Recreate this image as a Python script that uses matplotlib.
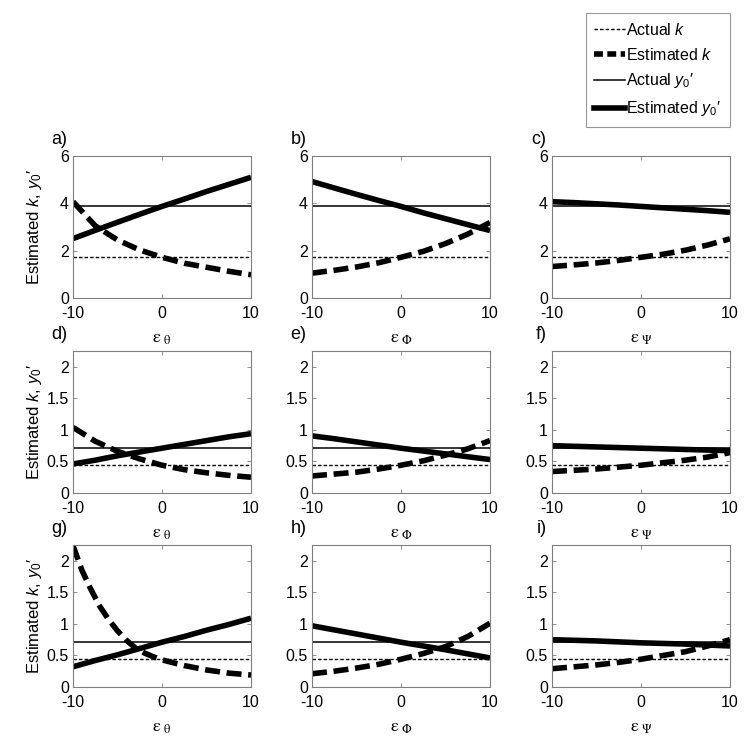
import matplotlib
matplotlib.use("Agg")
import matplotlib.pyplot as plt
from matplotlib.lines import Line2D
from matplotlib.ticker import FixedLocator, FuncFormatter

plt.rcParams['font.family'] = ['Liberation Sans', 'DejaVu Sans']
plt.rcParams['mathtext.fontset'] = 'custom'
plt.rcParams['mathtext.rm'] = 'Liberation Sans'
plt.rcParams['mathtext.it'] = 'Liberation Sans:italic'

# ---------------- data ----------------
eps = [-10, -7.5, -5, -2.5, 0, 2.5, 5, 7.5, 10]
eps_g_k = [-10, -9, -8, -7, -6, -5, -4, -3, -2, -1, 0, 2.5, 5, 7.5, 10]

actual_k_row1 = 1.72
actual_y0_row1 = 3.87
actual_k_rows23 = 0.44
actual_y0_rows23 = 0.71

est_k_a = [4.07, 3.05, 2.45, 2.03, 1.72, 1.47, 1.30, 1.13, 0.98]
est_y0_a = [2.51, 2.86, 3.20, 3.54, 3.87, 4.18, 4.50, 4.80, 5.10]
est_k_b = [1.05, 1.17, 1.31, 1.49, 1.72, 1.97, 2.30, 2.70, 3.19]
est_y0_b = [4.92, 4.65, 4.38, 4.12, 3.87, 3.60, 3.35, 3.10, 2.85]
est_k_c = [1.33, 1.40, 1.48, 1.59, 1.72, 1.85, 2.02, 2.24, 2.50]
est_y0_c = [4.07, 4.03, 3.98, 3.93, 3.87, 3.81, 3.75, 3.69, 3.62]

est_k_d = [1.04, 0.82, 0.66, 0.54, 0.44, 0.37, 0.32, 0.28, 0.25]
est_y0_d = [0.46, 0.52, 0.59, 0.65, 0.71, 0.77, 0.83, 0.89, 0.94]
est_k_e = [0.27, 0.30, 0.33, 0.38, 0.44, 0.51, 0.60, 0.70, 0.83]
est_y0_e = [0.905, 0.86, 0.81, 0.76, 0.71, 0.665, 0.62, 0.575, 0.53]
est_k_f = [0.34, 0.36, 0.38, 0.41, 0.44, 0.48, 0.52, 0.57, 0.64]
est_y0_f = [0.75, 0.74, 0.73, 0.72, 0.71, 0.70, 0.69, 0.68, 0.67]

est_k_g = [2.24, 1.85, 1.55, 1.28, 1.07, 0.89, 0.74, 0.62, 0.54, 0.48, 0.43,
           0.34, 0.27, 0.22, 0.19]
est_y0_g = [0.32, 0.42, 0.51, 0.61, 0.71, 0.80, 0.90, 0.99, 1.09]
est_k_h = [0.21, 0.25, 0.30, 0.36, 0.44, 0.53, 0.64, 0.80, 1.01]
est_y0_h = [0.97, 0.905, 0.84, 0.775, 0.71, 0.65, 0.59, 0.525, 0.46]
est_k_i = [0.29, 0.32, 0.35, 0.39, 0.44, 0.50, 0.56, 0.65, 0.75]
est_y0_i = [0.75, 0.74, 0.73, 0.715, 0.70, 0.69, 0.68, 0.665, 0.65]

panel_labels = ['a)', 'b)', 'c)', 'd)', 'e)', 'f)', 'g)', 'h)', 'i)']
xlabel_subs = [r'\theta', r'\Phi', r'\Psi']
yticks_row1 = [0, 2, 4, 6]
yticks_rows23 = [0, 0.5, 1, 1.5, 2]
xticks = [-10, 0, 10]

panels = [
    (eps, est_k_a, est_y0_a, actual_k_row1, actual_y0_row1),
    (eps, est_k_b, est_y0_b, actual_k_row1, actual_y0_row1),
    (eps, est_k_c, est_y0_c, actual_k_row1, actual_y0_row1),
    (eps, est_k_d, est_y0_d, actual_k_rows23, actual_y0_rows23),
    (eps, est_k_e, est_y0_e, actual_k_rows23, actual_y0_rows23),
    (eps, est_k_f, est_y0_f, actual_k_rows23, actual_y0_rows23),
    (eps_g_k, est_k_g, est_y0_g, actual_k_rows23, actual_y0_rows23),
    (eps, est_k_h, est_y0_h, actual_k_rows23, actual_y0_rows23),
    (eps, est_k_i, est_y0_i, actual_k_rows23, actual_y0_rows23),
]

# ---------------- figure ----------------
W, H = 750, 746
fig = plt.figure(figsize=(W / 100, H / 100), dpi=100)

col_left = [73, 312, 552]
ax_w = 178
row_top = [156, 351, 545]
ax_h = 142

spine_col = '#7f7f7f'
est_lw = 4.0
k_dash = (2.7, 1.2)
actual_k_style = dict(color='black', lw=1.0, dashes=(2.5, 1.5))
actual_y0_style = dict(color='black', lw=1.1)

fmt = FuncFormatter(lambda v, p: '%g' % v)

for idx, (x_k, ek, ey, ak, ay) in enumerate(panels):
    r, c = divmod(idx, 3)
    left = col_left[c] / W
    bottom = 1 - (row_top[r] + ax_h) / H
    ax = fig.add_axes([left, bottom, ax_w / W, ax_h / H])
    ax.plot([-10, 10], [ak, ak], **actual_k_style)
    ax.plot([-10, 10], [ay, ay], **actual_y0_style)
    ax.plot(x_k, ek, color='black', lw=est_lw, dashes=k_dash,
            solid_capstyle='butt', dash_capstyle='butt')
    ax.plot(eps, ey, color='black', lw=est_lw, solid_capstyle='butt')
    ax.set_xlim(-10, 10)
    if r == 0:
        ax.set_ylim(0, 6)
        ax.yaxis.set_major_locator(FixedLocator(yticks_row1))
    else:
        ax.set_ylim(0, 2.25)
        ax.yaxis.set_major_locator(FixedLocator(yticks_rows23))
    ax.xaxis.set_major_locator(FixedLocator(xticks))
    ax.yaxis.set_major_formatter(fmt)
    ax.xaxis.set_major_formatter(fmt)
    ax.tick_params(direction='in', length=3, width=0.6, colors=spine_col,
                   labelcolor='black', labelsize=11.5, top=True, right=True,
                   pad=3)
    ax.tick_params(axis='x', pad=6)
    for s in ax.spines.values():
        s.set_color(spine_col)
        s.set_linewidth(0.8)
    ax.set_xlabel(r'$\mathrm{\varepsilon}_{\ \mathrm{%s}}$' % xlabel_subs[c],
                  fontsize=13, math_fontfamily='stix', labelpad=6)
    if c == 0:
        ax.set_ylabel('Estimated $k$, $y_0$\u2032', fontsize=12)
        ax.yaxis.set_label_coords(-0.165, 0.5)
    ax.text(-0.03, 1.115, panel_labels[idx], transform=ax.transAxes,
            ha='right', va='center', fontsize=13)

handles = [
    Line2D([], [], **actual_k_style),
    Line2D([], [], color='black', lw=est_lw, dashes=(1.6, 0.8)),
    Line2D([], [], **actual_y0_style),
    Line2D([], [], color='black', lw=est_lw),
]
labels = ['Actual $k$', 'Estimated $k$', 'Actual $y_0$\u2032',
          'Estimated $y_0$\u2032']
leg = fig.legend(handles, labels, loc='upper right',
                 bbox_to_anchor=(730 / W, 1 - 13 / H),
                 fontsize=11.5, frameon=True, fancybox=False, shadow=False,
                 handlelength=1.9, handletextpad=0.1, labelspacing=0.55,
                 borderpad=0.55, borderaxespad=0)
leg.get_frame().set_edgecolor(spine_col)
leg.get_frame().set_linewidth(0.8)

fig.savefig('out.png', dpi=100)
